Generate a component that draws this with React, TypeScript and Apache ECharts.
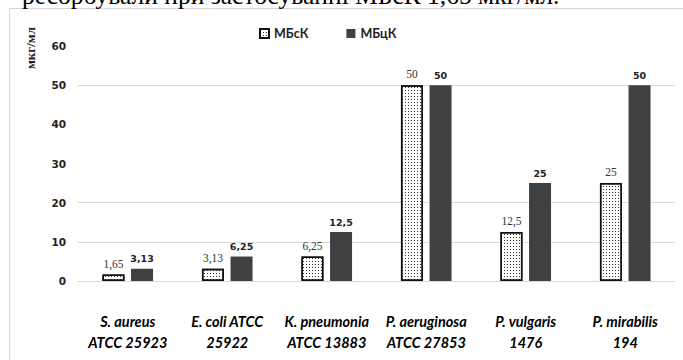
import React, { useEffect, useRef } from "react";
import * as echarts from "echarts";

const categories = [
  "S. aureus\nATCC 25923",
  "E. coli ATCC\n25922",
  "K. pneumonia\nATCC 13883",
  "P. aeruginosa\nATCC 27853",
  "P. vulgaris\n1476",
  "P. mirabilis\n194",
];
const seriesNames = ["МБсК", "МБцК"];
const mbsk = [1.65, 3.13, 6.25, 50, 12.5, 25];
const mbck = [3.13, 6.25, 12.5, 50, 25, 50];
const yTicks = { min: 0, max: 60, interval: 10 };
const yName = "мкг/мл";
const headerText = "ресорбували при застосуванні МБсК 1,65 мкг/мл.";

const fmt = (v: number) => String(v).replace(".", ",");

export default function App() {
  const ref = useRef<HTMLDivElement>(null);
  useEffect(() => {
    if (!ref.current) return;
    const chart = echarts.init(ref.current, undefined, { renderer: "svg" });
    const decal = {
      symbol: "rect",
      symbolSize: 1,
      color: "#333",
      backgroundColor: "#fff",
      dashArrayX: [1, 1.5],
      dashArrayY: [1, 2],
      rotation: 0,
    };
    chart.setOption({
      animation: false,
      backgroundColor: "#fff",
      graphic: [
        {
          type: "rect",
          shape: { x: 9.5, y: 8.5, width: 700, height: 400 },
          style: { fill: "none", stroke: "#d6d6d6", lineWidth: 1 },
          silent: true,
        },
        {
          type: "text",
          x: 22,
          y: 8.5,
          style: {
            text: headerText,
            font: "25.5px 'Liberation Serif'",
            fill: "#000",
            verticalAlign: "bottom",
          },
        },
        {
          type: "text",
          x: 30,
          y: 48,
          rotation: Math.PI / 2,
          style: {
            text: yName,
            font: "bold 13px 'Liberation Serif'",
            fill: "#222",
            align: "center",
            verticalAlign: "middle",
          },
        },
      ],
      legend: {
        top: 22,
        left: 254,
        itemWidth: 9,
        itemHeight: 9,
        itemGap: 38,
        icon: "rect",
        textStyle: { fontFamily: "Lato", fontWeight: "bold", fontSize: 12.5, color: "#222" },
        data: seriesNames,
      },
      grid: { left: 78, right: 8, top: 46, bottom: 79, containLabel: false },
      xAxis: {
        type: "category",
        data: categories,
        axisTick: { show: false },
        axisLine: { lineStyle: { color: "#d9d9d9" } },
        axisLabel: {
          interval: 0,
          margin: 30,
          lineHeight: 21,
          fontFamily: "Lato",
          fontStyle: "italic",
          fontWeight: "bold",
          fontSize: 14.5,
          color: "#000",
        },
      },
      yAxis: {
        type: "value",
        min: yTicks.min,
        max: yTicks.max,
        interval: yTicks.interval,
        axisLine: { show: false },
        axisTick: { show: false },
        axisLabel: {
          margin: 12,
          fontFamily: "DejaVu Sans",
          fontWeight: "bold",
          fontSize: 10.5,
          color: "#222",
        },
        splitLine: {
          lineStyle: {
            color: ["#d9d9d9", "#d9d9d9", "#d9d9d9", "rgba(0,0,0,0)", "rgba(0,0,0,0)", "#d9d9d9", "rgba(0,0,0,0)"],
          },
        },
      },
      series: [
        {
          name: seriesNames[0],
          type: "bar",
          data: mbsk,
          barWidth: 22,
          barGap: "30%",
          itemStyle: { color: "#fff", borderColor: "#111", borderWidth: 1.5, decal },
          label: {
            show: true,
            position: "top",
            distance: 5,
            formatter: (p: any) => fmt(p.value),
            fontFamily: "Liberation Serif",
            fontSize: 11.5,
            color: "#333",
          },
        },
        {
          name: seriesNames[1],
          type: "bar",
          data: mbck,
          barWidth: 22,
          itemStyle: { color: "#404040" },
          label: {
            show: true,
            position: "top",
            distance: 5,
            formatter: (p: any) => fmt(p.value),
            fontFamily: "DejaVu Sans",
            fontWeight: "bold",
            fontSize: 9.5,
            color: "#222",
          },
        },
      ],
    });
    return () => chart.dispose();
  }, []);
  return <div ref={ref} style={{ width: 683, height: 360, position: "absolute", left: 0, top: 0 }} />;
}
